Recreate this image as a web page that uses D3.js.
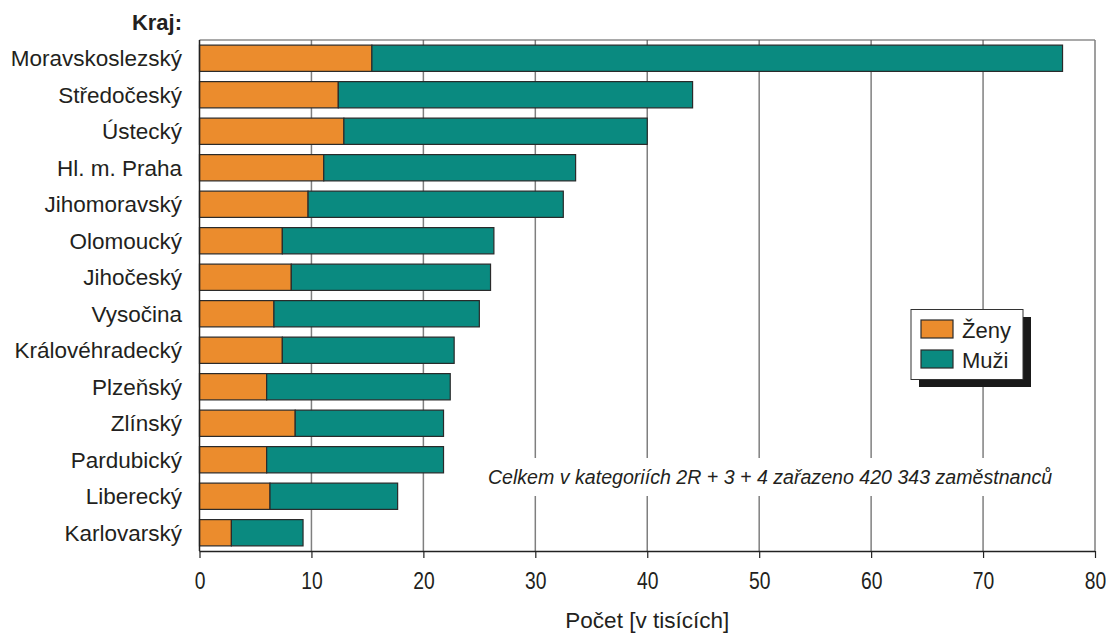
<!DOCTYPE html>
<html><head><meta charset="utf-8">
<script src="https://cdn.jsdelivr.net/npm/d3@7"></script>
<style>
body{margin:0;background:#fff;}
svg{display:block;}
text{font-family:"Liberation Sans",Arial,sans-serif;fill:#231f20;}
</style></head>
<body><svg id="c" width="1106" height="635"></svg>
<script>
const categories = ["Moravskoslezský","Středočeský","Ústecký","Hl. m. Praha","Jihomoravský","Olomoucký","Jihočeský","Vysočina","Královéhradecký","Plzeňský","Zlínský","Pardubický","Liberecký","Karlovarský"];
const zeny = [15.4, 12.4, 12.9, 11.1, 9.7, 7.4, 8.2, 6.65, 7.4, 6.0, 8.55, 6.0, 6.3, 2.85];
const muzi = [61.7, 31.65, 27.1, 22.5, 22.8, 18.9, 17.8, 18.35, 15.35, 16.4, 13.25, 15.8, 11.4, 6.4];
const seriesNames = ["Ženy","Muži"];
const xTicks = [0,10,20,30,40,50,60,70,80];
const colors = ["#EB8C2D","#0A8A80"];

const svg = d3.select("#c");
const L=199.5, R=1095, T=40, B=551;
const x = d3.scaleLinear().domain([0,80]).range([L,R]);
const y = d3.scaleBand().domain(categories).range([T,B]).paddingInner(0.28).paddingOuter(0.14);

// gridlines
svg.append("g").selectAll("line").data(xTicks.filter(d=>d>0&&d<80)).join("line")
  .attr("x1",d=>x(d)).attr("x2",d=>x(d)).attr("y1",T).attr("y2",B)
  .attr("stroke","#7f7f7f").attr("stroke-width",1.5);
// frame top & right
svg.append("line").attr("x1",L).attr("x2",R).attr("y1",T).attr("y2",T).attr("stroke","#555").attr("stroke-width",1.2);
svg.append("line").attr("x1",R).attr("x2",R).attr("y1",T).attr("y2",B).attr("stroke","#7f7f7f").attr("stroke-width",1.5);

// annotation with white background
const ann = svg.append("g");
const annBg = ann.append("rect").attr("fill","#fff");
const annT = ann.append("text").attr("x",770).attr("y",484).attr("text-anchor","middle")
  .style("font-style","italic").style("font-size","19.6px")
  .text("Celkem v kategoriích 2R + 3 + 4 zařazeno 420 343 zaměstnanců");
const bb = annT.node().getBBox();
annBg.attr("x",bb.x-4).attr("y",bb.y-8).attr("width",bb.width+8).attr("height",bb.height+16);

// stacked bars
const data = categories.map((c,i)=>({cat:c, Ženy:zeny[i], Muži:muzi[i]}));
const stack = d3.stack().keys(seriesNames)(data);
svg.append("g").selectAll("g").data(stack).join("g")
  .attr("fill",(d,i)=>colors[i])
  .selectAll("rect").data(d=>d).join("rect")
  .attr("x",d=>x(d[0])).attr("width",d=>x(d[1])-x(d[0]))
  .attr("y",d=>y(d.data.cat)).attr("height",y.bandwidth())
  .attr("stroke","#2a2a2a").attr("stroke-width",1.2);

// left axis line
svg.append("line").attr("x1",L).attr("x2",L).attr("y1",T).attr("y2",B).attr("stroke","#222").attr("stroke-width",1.5);

// bottom axis
const xa = svg.append("g").attr("transform",`translate(0,${B})`)
  .call(d3.axisBottom(x).tickValues(xTicks).tickSize(7).tickPadding(15).tickFormat(d3.format("d")));
xa.select(".domain").attr("stroke","#222").attr("stroke-width",1.5).attr("d",`M${L},0.5H${R}`);
xa.selectAll(".tick line").attr("stroke","#222").attr("stroke-width",1.2);
xa.selectAll(".tick text").style("font-family","'Liberation Sans',Arial,sans-serif").style("font-size","23px")
  .attr("fill","#231f20").attr("transform","scale(0.84,1)");

// category labels
svg.append("g").selectAll("text").data(categories).join("text")
  .attr("x",182).attr("y",d=>y(d)+y.bandwidth()/2).attr("dy","0.36em")
  .attr("text-anchor","end").style("font-size","22.5px").text(d=>d);

svg.append("text").attr("x",182).attr("y",30).attr("text-anchor","end")
  .style("font-size","22px").style("font-weight","bold").text("Kraj:");

svg.append("text").attr("x",(L+R)/2).attr("y",628).attr("text-anchor","middle")
  .style("font-size","22.5px").text("Počet [v tisících]");

// legend
const lg = svg.append("g");
lg.append("rect").attr("x",919).attr("y",317).attr("width",112).attr("height",70).attr("fill","#1a1a1a");
lg.append("rect").attr("x",911).attr("y",309.5).attr("width",112).attr("height",70).attr("fill","#fff").attr("stroke","#333").attr("stroke-width",1);
seriesNames.forEach((s,i)=>{
  lg.append("rect").attr("x",921).attr("y",320+i*30).attr("width",32).attr("height",18)
    .attr("fill",colors[i]).attr("stroke","#2a2a2a").attr("stroke-width",1.2);
  lg.append("text").attr("x",962).attr("y",338+i*29.5).style("font-size","22px").text(s);
});
</script></body></html>
